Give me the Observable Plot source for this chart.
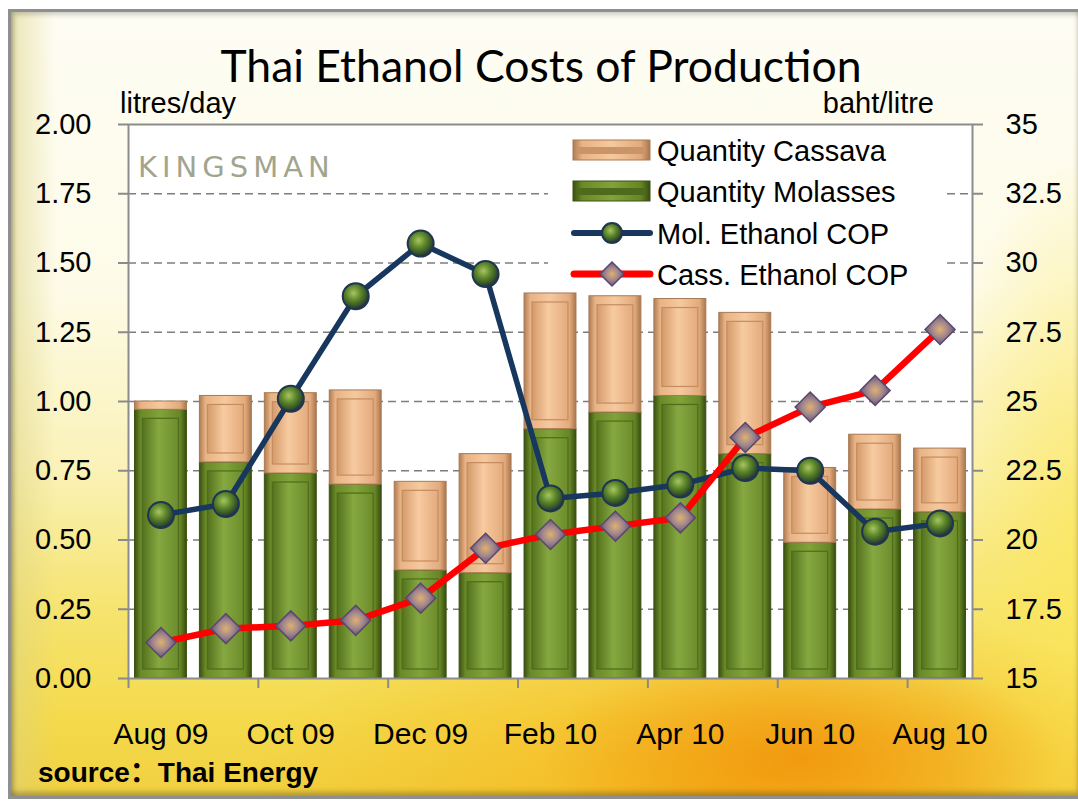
<!DOCTYPE html>
<html>
<head>
<meta charset="utf-8">
<script src="https://cdn.jsdelivr.net/npm/d3@7"></script>
<script src="https://cdn.jsdelivr.net/npm/@observablehq/plot@0.6"></script>
<style>
html,body{margin:0;padding:0;background:#fff;}
#wrap{position:relative;width:1078px;height:806px;overflow:hidden;font-family:"Liberation Sans",Arial,sans-serif;}
#bg{position:absolute;left:8px;top:9px;width:1070px;height:790px;box-sizing:border-box;
  border:3px solid #8f8f8f;border-right:none;
  box-shadow: inset 3px 3px 5px rgba(0,0,0,0.18), inset 0 -4px 5px rgba(60,60,20,0.35);
  background:
    radial-gradient(ellipse 260px 110px at 790px 745px, rgba(240,145,10,0.8), rgba(240,145,10,0) 100%),
    radial-gradient(ellipse 480px 200px at 720px 780px, rgba(246,180,25,0.9), rgba(246,195,40,0) 100%),
    radial-gradient(ellipse 160px 420px at 1078px 560px, rgba(251,230,90,0.85), rgba(251,230,90,0) 100%),
    linear-gradient(to right, rgba(220,210,130,0.55) 0px, rgba(220,210,130,0) 45px),
    linear-gradient(to bottom, #fefdf4 0%, #fdfbe8 35%, #faf2b8 58%, #f6e470 76%, #f4da4c 90%, #f1d040 100%);
}
#plotwrap{position:absolute;left:0;top:0;}
#overlay{position:absolute;left:0;top:0;pointer-events:none;}
</style>
</head>
<body>
<div id="wrap">
  <div id="bg"></div>
  <svg width="0" height="0" style="position:absolute">
    <defs>
      <linearGradient id="molOuter" x1="0" x2="1" y1="0" y2="0">
        <stop offset="0" stop-color="#3a5012"/>
        <stop offset="0.12" stop-color="#6a8a28"/>
        <stop offset="0.5" stop-color="#82a23a"/>
        <stop offset="0.88" stop-color="#668626"/>
        <stop offset="1" stop-color="#364c10"/>
      </linearGradient>
      <linearGradient id="molInner" x1="0" x2="1" y1="0" y2="0">
        <stop offset="0" stop-color="#54721e"/>
        <stop offset="0.45" stop-color="#86a840"/>
        <stop offset="1" stop-color="#6c8c2c"/>
      </linearGradient>
      <linearGradient id="cassOuter" x1="0" x2="1" y1="0" y2="0">
        <stop offset="0" stop-color="#b07c52"/>
        <stop offset="0.12" stop-color="#e8b385"/>
        <stop offset="0.5" stop-color="#f5c99e"/>
        <stop offset="0.88" stop-color="#e2aa7c"/>
        <stop offset="1" stop-color="#a8764e"/>
      </linearGradient>
      <linearGradient id="cassInner" x1="0" x2="1" y1="0" y2="0">
        <stop offset="0" stop-color="#d49a6a"/>
        <stop offset="0.45" stop-color="#f7cba0"/>
        <stop offset="1" stop-color="#e4aa7c"/>
      </linearGradient>
      <radialGradient id="dotGrad" cx="0.42" cy="0.38" r="0.6">
        <stop offset="0" stop-color="#a9c464"/>
        <stop offset="0.45" stop-color="#5f8a2a"/>
        <stop offset="0.85" stop-color="#34502a"/>
        <stop offset="1" stop-color="#1f3348"/>
      </radialGradient>
      <radialGradient id="diaGrad" cx="0.5" cy="0.5" r="0.55">
        <stop offset="0" stop-color="#e0b070"/>
        <stop offset="0.45" stop-color="#a58a8c"/>
        <stop offset="1" stop-color="#5f4c74"/>
      </radialGradient>
    </defs>
  </svg>
  <div id="plotwrap"></div>
  <svg id="overlay" width="1078" height="806"></svg>
</div>
<script>
// ---- data ----
const months = ["Aug 09","Sep 09","Oct 09","Nov 09","Dec 09","Jan 10","Feb 10","Mar 10","Apr 10","May 10","Jun 10","Jul 10","Aug 10"];
const molassesQty = [0.97,0.78,0.74,0.70,0.39,0.38,0.90,0.96,1.02,0.81,0.49,0.61,0.60];
const cassavaQty  = [0.03,0.24,0.29,0.34,0.32,0.43,0.49,0.42,0.35,0.51,0.27,0.27,0.23];
const molEthanolCOP  = [20.9,21.3,25.1,28.8,30.7,29.6,21.5,21.7,22.0,22.6,22.5,20.3,20.6];
const cassEthanolCOP = [16.3,16.8,16.9,17.1,17.9,19.7,20.2,20.5,20.8,23.7,24.8,25.4,27.6];
const leftTickValues = [0,0.25,0.5,0.75,1,1.25,1.5,1.75,2];
const rightTickValues = [15,17.5,20,22.5,25,27.5,30,32.5,35];
const labelMonths = ["Aug 09","Oct 09","Dec 09","Feb 10","Apr 10","Jun 10","Aug 10"];
const seriesNames = ["Quantity Cassava","Quantity Molasses","Mol. Ethanol COP","Cass. Ethanol COP"];

// right axis (baht/litre) mapped onto left scale
const rMin = rightTickValues[0], rMax = rightTickValues[rightTickValues.length-1];
const lMax = leftTickValues[leftTickValues.length-1];
const toLeft = v => (v - rMin) / (rMax - rMin) * lMax;
const toRight = d => rMin + d / lMax * (rMax - rMin);

// tables built from arrays
const bars = [];
months.forEach((m, i) => bars.push({i, series: "Quantity Molasses", y1: 0, y2: molassesQty[i]}));
months.forEach((m, i) => bars.push({i, series: "Quantity Cassava", y1: molassesQty[i], y2: molassesQty[i] + cassavaQty[i]}));
const molBars = bars.filter(d => d.series === "Quantity Molasses");
const cassBars = bars.filter(d => d.series === "Quantity Cassava");
const molPts = months.map((m, i) => ({i, v: molEthanolCOP[i]}));
const cassPts = months.map((m, i) => ({i, v: cassEthanolCOP[i]}));
const labelIdx = labelMonths.map(m => months.indexOf(m));
const boundaryTicks = labelIdx.map(i => i - 0.5);
const half = 0.4;

const FONT = "Liberation Sans, Arial, Helvetica, sans-serif";

const chart = Plot.plot({
  width: 1078,
  height: 806,
  marginLeft: 128,
  marginRight: 106,
  marginTop: 124,
  marginBottom: 128,
  style: {background: "transparent", fontFamily: FONT, fontSize: "29px", color: "#000", overflow: "visible"},
  x: {type: "linear", domain: [-0.5, months.length - 0.5], axis: null},
  y: {domain: [0, lMax], axis: null},
  marks: [
    Plot.frame({fill: "white", stroke: "none"}),
    Plot.gridY(leftTickValues.slice(1, -1), {stroke: "#7d7d7d", strokeOpacity: 1, strokeWidth: 1.6, strokeDasharray: "8,5"}),
    Plot.axisY({anchor: "left", ticks: leftTickValues, tickSize: 10, tickPadding: 27, tickFormat: d3.format(".2f"),
      stroke: "#8a8a8a", strokeWidth: 2, fill: "#000", fontSize: 29, label: null}),
    Plot.axisY({anchor: "right", ticks: rightTickValues.map(toLeft), tickSize: 10, tickPadding: 23,
      tickFormat: d => String(Math.round(toRight(d) * 10) / 10),
      stroke: "#8a8a8a", strokeWidth: 2, fill: "#000", fontSize: 29, label: null}),
    Plot.axisX({ticks: boundaryTicks, tickSize: 10, tickFormat: () => "", stroke: "#8a8a8a", strokeWidth: 2, label: null}),
    Plot.axisX({ticks: labelIdx, tickSize: 0, tickPadding: 44, tickFormat: i => months[i], fill: "#000", fontSize: 30, label: null}),
    // molasses bars (bevel)
    Plot.rect(molBars, {x1: d => d.i - half, x2: d => d.i + half, y1: "y1", y2: "y2", fill: "url(#molOuter)", stroke: "#3e5214", strokeWidth: 1}),
    Plot.rect(molBars.filter(d => d.y2 - d.y1 > 0.08), {x1: d => d.i - half, x2: d => d.i + half, y1: "y1", y2: "y2",
      insetLeft: 8, insetRight: 8, insetTop: 9, insetBottom: 9, fill: "url(#molInner)", stroke: "#4f6c1a", strokeWidth: 1.2}),
    // cassava bars (bevel)
    Plot.rect(cassBars, {x1: d => d.i - half, x2: d => d.i + half, y1: "y1", y2: "y2", fill: "url(#cassOuter)", stroke: "#a87a55", strokeWidth: 1}),
    Plot.rect(cassBars.filter(d => d.y2 - d.y1 > 0.08), {x1: d => d.i - half, x2: d => d.i + half, y1: "y1", y2: "y2",
      insetLeft: 8, insetRight: 8, insetTop: 9, insetBottom: 9, fill: "url(#cassInner)", stroke: "#c48c60", strokeWidth: 1.2}),
    // lines
    Plot.line(molPts, {x: "i", y: d => toLeft(d.v), stroke: "#17375e", strokeWidth: 5.5}),
    Plot.line(cassPts, {x: "i", y: d => toLeft(d.v), stroke: "#ff0000", strokeWidth: 6.5}),
    Plot.dot(molPts, {x: "i", y: d => toLeft(d.v), r: 13, fill: "url(#dotGrad)", stroke: "#1f3550", strokeWidth: 2}),
    Plot.dot(cassPts, {x: "i", y: d => toLeft(d.v), r: 13.5, symbol: "diamond2", fill: "url(#diaGrad)", stroke: "#5a4870", strokeWidth: 1.5}),
    Plot.frame({stroke: "#8c8c8c", strokeWidth: 2})
  ]
});
document.getElementById("plotwrap").appendChild(chart);

// ---- overlay texts & legend ----
const ov = d3.select("#overlay");
function txt(x, y, s, opts = {}) {
  const t = ov.append("text").attr("x", x).attr("y", y).text(s)
    .attr("font-family", opts.family || FONT)
    .attr("font-size", opts.size || 29)
    .attr("fill", opts.fill || "#000")
    .attr("text-anchor", opts.anchor || "start");
  if (opts.weight) t.attr("font-weight", opts.weight);
  if (opts.spacing) t.attr("letter-spacing", opts.spacing);
  return t;
}
txt(541, 82, "Thai Ethanol Costs of Production", {family: "Lato, 'Open Sans', sans-serif", size: 44.5, anchor: "middle"});
txt(120, 113, "litres/day", {size: 29});
txt(934, 113, "baht/litre", {size: 29, anchor: "end"});
txt(138, 177, "KINGSMAN", {family: "'DejaVu Sans', sans-serif", size: 29, fill: "#a2a58e", spacing: 5});
txt(38, 782, "source：Thai Energy", {size: 28, weight: "bold", family: FONT + ", 'Noto Sans CJK SC'"});

// legend
const lg = ov.append("g");
lg.append("rect").attr("x", 548).attr("y", 128).attr("width", 398).attr("height", 164).attr("fill", "white");
const rowsY = [150, 191, 233, 274];
// cassava swatch
lg.append("rect").attr("x", 573).attr("y", rowsY[0] - 10).attr("width", 77).attr("height", 20).attr("fill", "url(#cassOuter)").attr("stroke", "#a87a55");
lg.append("rect").attr("x", 577).attr("y", rowsY[0] - 3).attr("width", 69).attr("height", 7).attr("fill", "#c99468");
// molasses swatch
lg.append("rect").attr("x", 573).attr("y", rowsY[1] - 10).attr("width", 77).attr("height", 20).attr("fill", "url(#molOuter)").attr("stroke", "#3e5214");
lg.append("rect").attr("x", 577).attr("y", rowsY[1] - 3).attr("width", 69).attr("height", 7).attr("fill", "#4e6a1c");
// mol line
lg.append("line").attr("x1", 574).attr("x2", 650).attr("y1", rowsY[2]).attr("y2", rowsY[2]).attr("stroke", "#17375e").attr("stroke-width", 6).attr("stroke-linecap", "round");
lg.append("circle").attr("cx", 612).attr("cy", rowsY[2]).attr("r", 10).attr("fill", "url(#dotGrad)").attr("stroke", "#1f3550").attr("stroke-width", 2);
// cass line
lg.append("line").attr("x1", 574).attr("x2", 650).attr("y1", rowsY[3]).attr("y2", rowsY[3]).attr("stroke", "#ff0000").attr("stroke-width", 7).attr("stroke-linecap", "round");
lg.append("path").attr("transform", `translate(612,${rowsY[3]})`).attr("d", "M0,-12L12,0L0,12L-12,0Z").attr("fill", "url(#diaGrad)").attr("stroke", "#5a4870").attr("stroke-width", 1.5);
seriesNames.forEach((s, k) => txt(657, rowsY[k] + 11, s, {size: 29}));
</script>
</body>
</html>
